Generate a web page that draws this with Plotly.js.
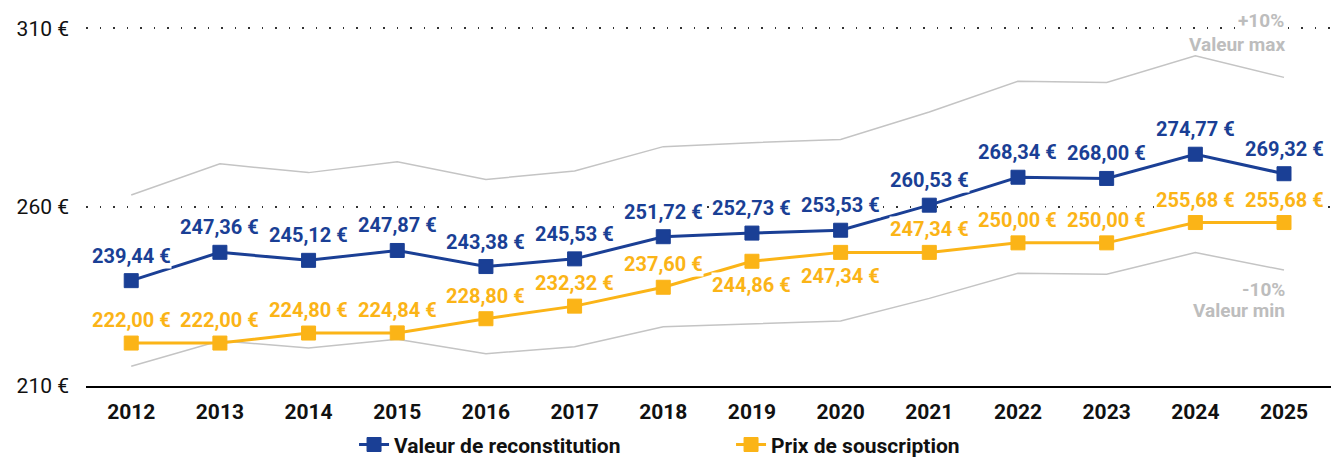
<!DOCTYPE html>
<html><head><meta charset="utf-8">
<script src="https://cdn.plot.ly/plotly-3.0.1.min.js"></script>
<style>html,body{margin:0;padding:0;background:#fff}#c{width:1331px;height:461px}</style>
</head><body><div id="c"></div>
<script>
const years = [2012,2013,2014,2015,2016,2017,2018,2019,2020,2021,2022,2023,2024,2025];
const valeurReconstitution = [239.44,247.36,245.12,247.87,243.38,245.53,251.72,252.73,253.53,260.53,268.34,268.00,274.77,269.32];
const prixSouscription = [222.00,222.00,224.80,224.84,228.80,232.32,237.60,244.86,247.34,247.34,250.00,250.00,255.68,255.68];
const valeurMax = [263.38,272.10,269.63,272.66,267.72,270.08,276.89,278.00,278.88,286.58,295.17,294.80,302.25,296.25];
const valeurMin = [215.50,222.62,220.61,223.08,219.04,220.98,226.55,227.46,228.18,234.48,241.51,241.20,247.29,242.39];
const yTicks = [210,260,310];
const yTickLabels = ['210 €','260 €','310 €'];
const seriesNames = ['Valeur de reconstitution','Prix de souscription'];

const BLUE = '#1a3f95', ORANGE = '#fbb417', GREY = '#c4c4c4', LGREY = '#bdbdbd';
const FONT = 'Roboto, "Liberation Sans", sans-serif';
const orangeBelow = new Set([2019, 2020]);

function fmt(v){ return v.toFixed(2).replace('.', ',') + ' €'; }

const traces = [
  {x: years, y: valeurMax, mode:'lines', line:{color:GREY, width:1.5}, showlegend:false, hoverinfo:'skip'},
  {x: years, y: valeurMin, mode:'lines', line:{color:GREY, width:1.5}, showlegend:false, hoverinfo:'skip'},
  {x: years, y: prixSouscription, name: seriesNames[1], mode:'lines+markers', legendrank:2,
   line:{color:ORANGE, width:3}, marker:{symbol:'square', size:14, color:ORANGE, line:{color:ORANGE, width:1}}},
  {x: years, y: valeurReconstitution, name: seriesNames[0], mode:'lines+markers', legendrank:1,
   line:{color:BLUE, width:3}, marker:{symbol:'square', size:14, color:BLUE, line:{color:BLUE, width:1}}}
];

const annotations = [];
years.forEach((yr, i) => {
  annotations.push({x: yr, y: valeurReconstitution[i], text: fmt(valeurReconstitution[i]), showarrow:false,
    yshift: 25, font:{family:FONT, size:20, color:BLUE, weight:'bold'}, bgcolor:'#fff', borderpad:0});
  const below = orangeBelow.has(yr);
  annotations.push({x: yr, y: prixSouscription[i], text: fmt(prixSouscription[i]), showarrow:false,
    yshift: below ? -24 : 23, font:{family:FONT, size:20, color:ORANGE, weight:'bold'}, bgcolor:'#fff', borderpad:0});
});
const greyFont = {family:FONT, size:19, color:LGREY, weight:'bold'};
annotations.push({x: 2025, y: 310, xanchor:'right', xshift: 3, yshift: 8, text:'+10%', showarrow:false, font:greyFont, bgcolor:'#fff', borderpad:2});
annotations.push({x: 2025, y: 310, xanchor:'right', xshift: 3, yshift: -16, text:'Valeur max', showarrow:false, font:greyFont});
annotations.push({x: 2025, y: 237.0, xanchor:'right', xshift: 3, text:'-10%', showarrow:false, font:greyFont});
annotations.push({x: 2025, y: 231.0, xanchor:'right', xshift: 3, text:'Valeur min', showarrow:false, font:greyFont});

const layout = {
  width:1331, height:461,
  margin:{l:86, r:0, t:21, b:75},
  paper_bgcolor:'#fff', plot_bgcolor:'#fff',
  showlegend:true,
  legend:{orientation:'h', xref:'container', yref:'container', x:0.266, xanchor:'left', y:0.035, yanchor:'middle',
    font:{family:FONT, size:21, color:'#111', weight:'bold'}, entrywidth:332, entrywidthmode:'pixels', traceorder:'normal'},
  xaxis:{range:[2011.49, 2025.53], tickvals: years, ticks:'', showgrid:false, zeroline:false,
    showline:true, linecolor:'#000', linewidth:2, ticklabelstandoff:6,
    tickfont:{family:FONT, size:21, color:'#111', weight:'bold'}},
  yaxis:{range:[210, 312], tickvals: yTicks, ticktext: yTickLabels, ticks:'', showline:false, zeroline:false,
    showgrid:true, gridcolor:'#333', gridwidth:1.5, griddash:'1.5px,12px', ticklabelstandoff:16,
    tickfont:{family:FONT, size:21, color:'#111'}},
  annotations: annotations
};
Plotly.newPlot('c', traces, layout, {displayModeBar:false, staticPlot:true});
</script></body></html>
